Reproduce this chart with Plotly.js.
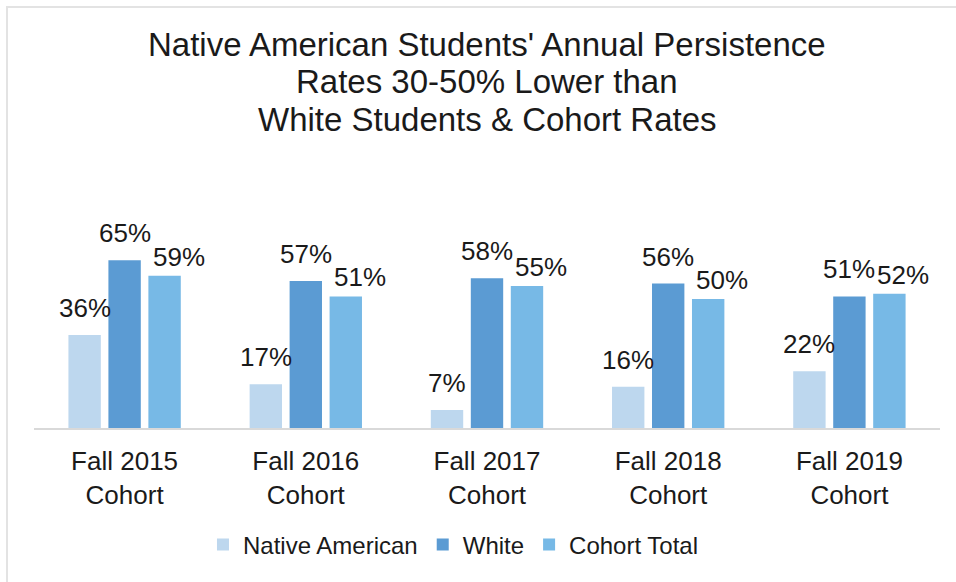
<!DOCTYPE html>
<html>
<head>
<meta charset="utf-8">
<script src="https://cdn.plot.ly/plotly-3.0.1.min.js"></script>
<style>
  body { margin: 0; background: #fff; }
  #plot { position: absolute; left: 0; top: 0; width: 956px; height: 582px; }
  #frame { position: absolute; left: 6px; top: 6px; width: 960px; height: 590px;
           border-left: 2px solid #e3e3e3; border-top: 2px solid #e3e3e3; pointer-events: none; }
</style>
</head>
<body>
<div id="plot"></div>
<div id="frame"></div>
<script>
let cohorts = ['Fall 2015<br>Cohort', 'Fall 2016<br>Cohort', 'Fall 2017<br>Cohort', 'Fall 2018<br>Cohort', 'Fall 2019<br>Cohort'];
let nativeAmerican = [36, 17, 7, 16, 22];
let white = [65, 57, 58, 56, 51];
let cohortTotal = [59, 51, 55, 50, 52];
let seriesNames = ['Native American', 'White', 'Cohort Total'];
let titleLines = ["Native American Students' Annual Persistence", 'Rates 30-50% Lower than', 'White Students & Cohort Rates'];

let colors = ['#bdd7ee', '#5b9bd3', '#77b9e6'];
let series = [nativeAmerican, white, cohortTotal];

let data = series.map(function (vals, s) {
  return {
    x: cohorts,
    y: vals,
    name: seriesNames[s],
    type: 'bar',
    marker: {color: colors[s]},
    hoverinfo: 'x+y+name'
  };
});

let margin = {l: 34, r: 16, t: 170, b: 154};
let bargap = 0.338;
let plotW = 956 - margin.l - margin.r;
let slot = plotW / cohorts.length * (1 - bargap) / series.length;

// the Cohort Total labels sit a bit right and lower, as in the original
let labelNudgeX = [0, 0, 14];
let labelNudgeY = [10, 10, 2];

let annotations = [];
series.forEach(function (vals, s) {
  vals.forEach(function (v, i) {
    annotations.push({
      x: cohorts[i], y: v, xref: 'x', yref: 'y',
      text: v + '%', showarrow: false,
      xanchor: 'center', yanchor: 'bottom',
      xshift: (s - 1) * slot + labelNudgeX[s], yshift: labelNudgeY[s],
      font: {family: 'Liberation Sans, Arial', size: 26, color: '#1a1a1a'}
    });
  });
});

// title lines, placed one by one for tighter spacing
let titleY = [1.4872, 1.3419, 1.1965];
titleLines.forEach(function (t, k) {
  annotations.push({
    x: 0.5, y: titleY[k], xref: 'paper', yref: 'paper',
    text: t, showarrow: false, xanchor: 'center', yanchor: 'middle',
    font: {family: 'Liberation Sans, Arial', size: 33, color: '#1a1a1a'}
  });
});

let layout = {
  width: 956, height: 582,
  margin: margin,
  paper_bgcolor: '#fff', plot_bgcolor: '#fff',
  barmode: 'group', bargap: bargap, bargroupgap: 0.19,
  font: {family: 'Liberation Sans, Arial', color: '#1a1a1a'},
  xaxis: {
    showline: true, linecolor: '#d9d9d9', linewidth: 2,
    showgrid: false, ticks: '', ticklabelstandoff: 9,
    tickfont: {size: 26, color: '#1a1a1a'}
  },
  yaxis: {range: [0, 100], visible: false, fixedrange: true},
  showlegend: true,
  legend: {
    orientation: 'h', x: 0.463, xanchor: 'center', y: -0.4535, yanchor: 'middle',
    font: {size: 24, color: '#1a1a1a'}
  },
  annotations: annotations
};

Plotly.newPlot('plot', data, layout, {displayModeBar: false});
</script>
</body>
</html>
